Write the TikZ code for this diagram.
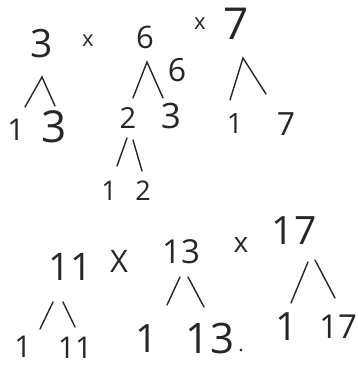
\documentclass[tikz,border=0pt]{standalone}
\usepackage{fontspec}
\setmainfont{Open Sans}
\begin{document}
\begin{tikzpicture}[x=1pt,y=-1pt,
  num/.style={inner sep=0pt, text=black!85},
  leg/.style={line width=1.4pt, draw=black!85, line cap=round},
  fs/.style={font=\fontsize{#1}{#1}\selectfont}]
\useasboundingbox (0,0) rectangle (358,367);
% top row
\node[num,fs=39] (a3) at (42,44) {3};
\node[num,fs=22] (x1) at (88,41) {x};
\node[num,fs=31] (a6) at (145,37) {6};
\node[num,fs=22] (x2) at (200,24) {x};
\node[num,fs=44] (a7) at (236,24) {7};
% tree under 3
\coordinate (t3a) at (42,77);
\coordinate (t3l) at (25,107);
\coordinate (t3r) at (55,106);
\draw[leg] (t3l) -- (t3a) -- (t3r);
\node[num,fs=30] (b1) at (16,130) {1};
\node[num,fs=44] (b3) at (54,127) {3};
% tree under 6
\coordinate (t6a) at (147,62);
\coordinate (t6l) at (133,98);
\coordinate (t6r) at (163,98);
\draw[leg] (t6l) -- (t6a) -- (t6r);
\node[num,fs=32] (s6) at (177,70) {6};
\node[num,fs=29] (b2) at (128,118) {2};
\node[num,fs=35] (b3b) at (171,116) {3};
% tree under 2
\coordinate (t2l1) at (127,138);
\coordinate (t2l2) at (117,166);
\coordinate (t2r1) at (133,140);
\coordinate (t2r2) at (142,171);
\draw[leg] (t2l1) -- (t2l2);
\draw[leg] (t2r1) -- (t2r2);
\node[num,fs=27] (c1) at (109,191) {1};
\node[num,fs=27] (c2) at (143,191) {2};
% tree under 7
\coordinate (t7a) at (243,58);
\coordinate (t7l) at (230,100);
\coordinate (t7r) at (266,94);
\draw[leg] (t7l) -- (t7a) -- (t7r);
\node[num,fs=28] (b1c) at (235,124) {1};
\node[num,fs=32] (b7) at (286,124) {7};
% second row
\node[num,fs=38] (d11) at (70,267) {11};
\node[num,fs=31] (x3) at (119,261) {X};
\node[num,fs=33] (d13) at (181,252) {13};
\node[num,fs=28] (x4) at (241,245) {x};
\node[num,fs=39] (d17) at (294,231) {17};
% tree under 11
\coordinate (t11l1) at (53,302);
\coordinate (t11l2) at (40,329);
\coordinate (t11r1) at (63,302);
\coordinate (t11r2) at (75,327);
\draw[leg] (t11l1) -- (t11l2);
\draw[leg] (t11r1) -- (t11r2);
\node[num,fs=30] (e1) at (23,347) {1};
\node[num,fs=30] (e11) at (75,348) {11};
% tree under 13
\coordinate (t13l1) at (180,277);
\coordinate (t13l2) at (167,305);
\coordinate (t13r1) at (188,277);
\coordinate (t13r2) at (204,307);
\draw[leg] (t13l1) -- (t13l2);
\draw[leg] (t13r1) -- (t13r2);
\node[num,fs=39] (f1) at (147,339) {1};
\node[num,fs=42] (f13) at (210,338) {13};
\node[num,fs=20] (dot) at (241,350) {.};
% tree under 17
\coordinate (t17l1) at (308,262);
\coordinate (t17l2) at (291,303);
\coordinate (t17r1) at (315,260);
\coordinate (t17r2) at (335,298);
\draw[leg] (t17l1) -- (t17l2);
\draw[leg] (t17r1) -- (t17r2);
\node[num,fs=39] (g1) at (287,327) {1};
\node[num,fs=33] (g17) at (338,327) {17};
\end{tikzpicture}
\end{document}
